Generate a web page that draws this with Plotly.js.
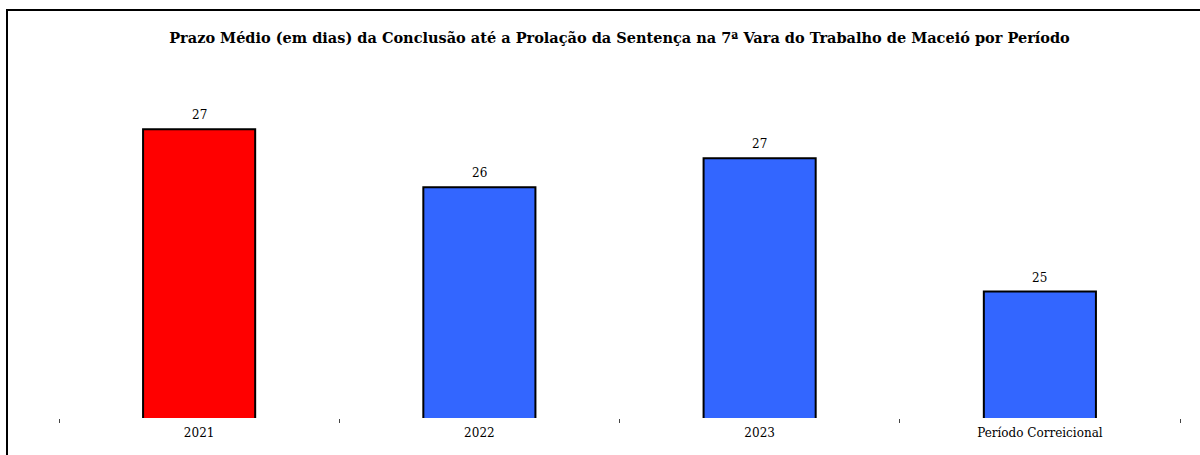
<!DOCTYPE html>
<html>
<head>
<meta charset="utf-8">
<script src="https://cdn.plot.ly/plotly-3.0.1.min.js"></script>
<style>
  html, body { margin: 0; padding: 0; background: #ffffff; }
  #wrap { position: relative; width: 1200px; height: 455px; overflow: hidden; }
  #frame { position: absolute; left: 6px; top: 9px; width: 1200px; height: 460px;
           border-left: 2px solid #000; border-top: 2px solid #000; pointer-events: none; }
  #chart { position: absolute; left: 0; top: 0; width: 1200px; height: 455px; }
</style>
</head>
<body>
<div id="wrap">
  <div id="chart"></div>
  <div id="frame"></div>
</div>
<script>
const categories = ['2021', '2022', '2023', 'Período Correicional'];
const prazoMedio = [27.4, 26.4, 26.9, 24.6];
const valueLabels = ['27', '26', '27', '25'];
const barColors = ['#FF0000', '#3366FF', '#3366FF', '#3366FF'];
const chartTitle = 'Prazo Médio (em dias) da Conclusão até a Prolação da Sentença na 7ª Vara do Trabalho de Maceió por Período';

const trace = {
  type: 'bar',
  x: categories,
  y: prazoMedio,
  width: 0.4,
  marker: { color: barColors, line: { color: '#000000', width: 2 } },
  hoverinfo: 'x+y'
};

// category axis: annotation x given as category index
const annotations = categories.map((c, i) => ({
  x: i,
  y: prazoMedio[i],
  xref: 'x',
  yref: 'y',
  text: valueLabels[i],
  showarrow: false,
  yanchor: 'bottom',
  yshift: 5,
  font: { family: 'DejaVu Serif, serif', size: 12, color: '#000000' }
}));

const layout = {
  width: 1200,
  height: 455,
  margin: { l: 59, r: 20, t: 60, b: 37 },
  paper_bgcolor: '#ffffff',
  plot_bgcolor: '#ffffff',
  showlegend: false,
  annotations: annotations,
  title: {
    text: '<b>' + chartTitle + '</b>',
    font: { family: 'DejaVu Serif, serif', size: 14.5, color: '#000000' },
    x: 0.5, xref: 'paper', xanchor: 'center',
    y: 1 - 38 / 455, yref: 'container', yanchor: 'middle'
  },
  xaxis: {
    type: 'category',
    range: [-0.5, 3.5],
    tickson: 'boundaries',
    ticks: 'outside',
    ticklen: 4,
    tickwidth: 1,
    tickcolor: '#444444',
    ticklabelstandoff: 6,
    showline: false,
    showgrid: false,
    zeroline: false,
    tickfont: { family: 'DejaVu Serif, serif', size: 12, color: '#000000' }
  },
  yaxis: {
    range: [22.42, 22.42 + 358 / 58],
    visible: false,
    showgrid: false,
    zeroline: false
  }
};

Plotly.newPlot('chart', [trace], layout, { displayModeBar: false, staticPlot: true });
</script>
</body>
</html>
